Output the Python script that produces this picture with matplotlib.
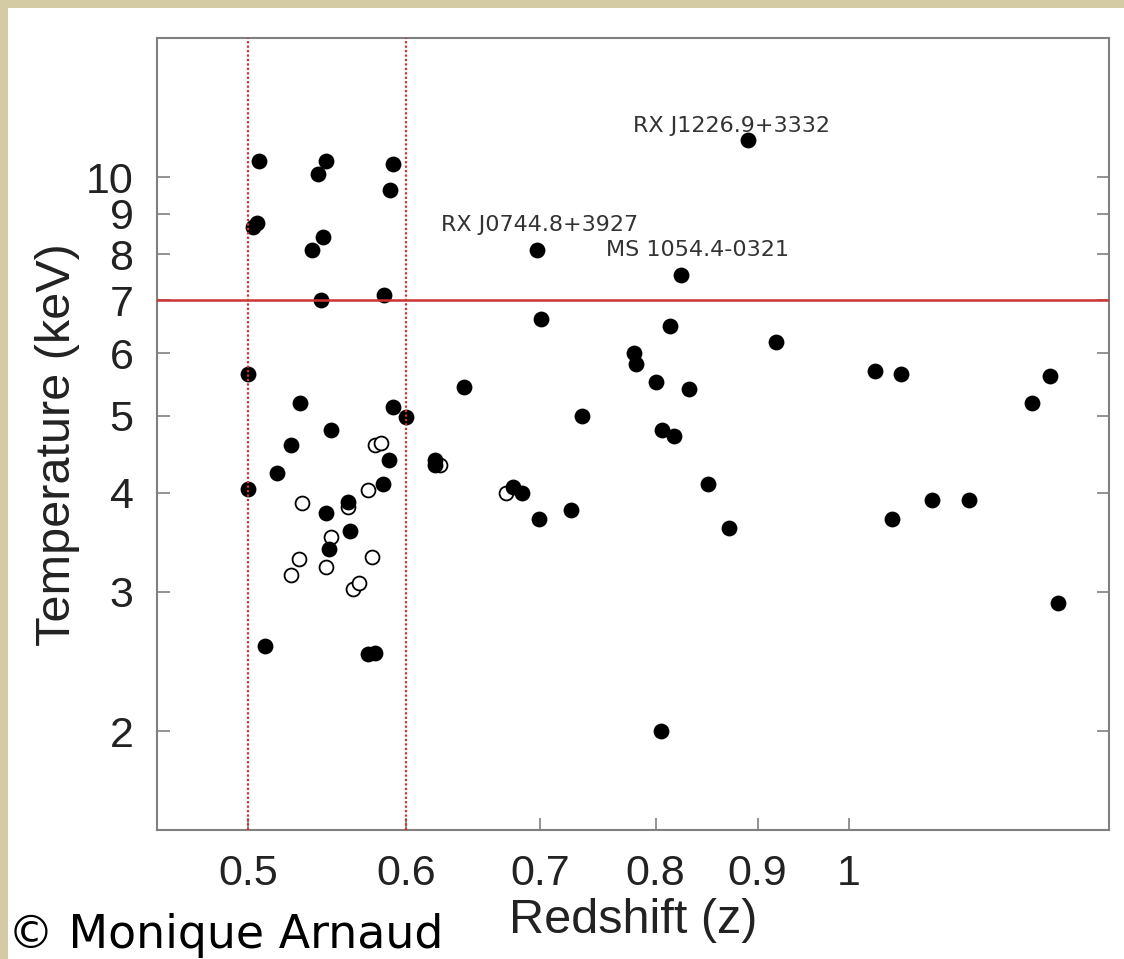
import matplotlib.pyplot as plt
from matplotlib.patches import Rectangle
from matplotlib.ticker import NullLocator

# clusters with a measured temperature (filled dots)
z_filled = [0.506, 0.547, 0.542, 0.591, 0.589, 0.505, 0.503, 0.545, 0.538, 0.544,
            0.585, 0.500, 0.500, 0.531, 0.550, 0.525, 0.517, 0.591, 0.600, 0.588,
            0.584, 0.561, 0.547, 0.562, 0.549, 0.510, 0.574, 0.579, 0.620, 0.620,
            0.641, 0.698, 0.701, 0.679, 0.686, 0.699, 0.726, 0.735, 0.780, 0.782,
            0.800, 0.806, 0.817, 0.813, 0.824, 0.831, 0.850, 0.871, 0.805, 0.890,
            0.919, 1.030, 1.062, 1.051, 1.100, 1.149, 1.235, 1.261, 1.273]
T_filled = [10.5, 10.5, 10.1, 10.4, 9.63, 8.75, 8.65, 8.4, 8.11, 7.01,
            7.1, 5.64, 4.04, 5.19, 4.80, 4.60, 4.24, 5.13, 4.99, 4.40,
            4.10, 3.89, 3.77, 3.58, 3.40, 2.56, 2.50, 2.51, 4.40, 4.33,
            5.44, 8.09, 6.63, 4.07, 3.99, 3.71, 3.80, 5.00, 6.01, 5.82,
            5.51, 4.80, 4.72, 6.50, 7.52, 5.41, 4.10, 3.61, 2.00, 11.14,
            6.20, 5.70, 5.64, 3.71, 3.91, 3.91, 5.19, 5.62, 2.90]

# open circles
z_open = [0.579, 0.583, 0.624, 0.532, 0.574, 0.561, 0.550, 0.530, 0.525, 0.547,
          0.577, 0.564, 0.568, 0.673]
T_open = [4.60, 4.62, 4.33, 3.88, 4.03, 3.84, 3.52, 3.30, 3.15, 3.22,
          3.32, 3.02, 3.08, 3.99]

# named clusters and where their labels sit (offset in points)
names = ['RX J1226.9+3332', 'RX J0744.8+3927', 'MS 1054.4-0321']
name_z = [0.890, 0.698, 0.824]
name_T = [11.14, 8.09, 7.52]
name_offsets = [(-11.5, 5.8), (1.4, 13.7), (11.5, 13.7)]

x_ticks = [0.5, 0.6, 0.7, 0.8, 0.9, 1.0]
x_tick_labels = ['0.5', '0.6', '0.7', '0.8', '0.9', '1']
y_ticks = [2, 3, 4, 5, 6, 7, 8, 9, 10]
y_tick_labels = ['2', '3', '4', '5', '6', '7', '8', '9', '10']

z_cuts = [0.5, 0.6]
T_cut = 7

W, H = 1124, 959
fig = plt.figure(figsize=(W / 100, H / 100), dpi=100, facecolor='#d4caa3')
fig.patches.append(Rectangle((8 / W, 0), 1, 1 - 8 / H, transform=fig.transFigure,
                             facecolor='white', edgecolor='none', zorder=-5))

ax = fig.add_axes([157 / W, 1 - 830 / H, (1109 - 157) / W, (830 - 38) / H])
ax.set_xscale('log')
ax.set_yscale('log')

ax.scatter(z_open, T_open, s=100, facecolors='white', edgecolors='black',
           linewidths=1.3, zorder=2)
ax.scatter(z_filled, T_filled, s=130, color='black', linewidths=0, zorder=3)

for zc in z_cuts:
    ax.axvline(zc, color='#cc3333', lw=1.6, ls=(0, (1, 1)), zorder=4)
ax.axhline(T_cut, color='#cc3333', lw=1.8, zorder=4)

for name, zz, tt, off in zip(names, name_z, name_T, name_offsets):
    ax.annotate(name, (zz, tt), xytext=off, textcoords='offset points',
                ha='center', va='baseline', fontsize=16, color='#333333',
                family='DejaVu Sans')

ax.set_xlim(0.45, 1.35)
ax.set_ylim(1.5, 15)
ax.set_xticks(x_ticks)
ax.set_xticklabels(x_tick_labels)
ax.set_yticks(y_ticks)
ax.set_yticklabels(y_tick_labels)
ax.xaxis.set_minor_locator(NullLocator())
ax.yaxis.set_minor_locator(NullLocator())

for sp in ax.spines.values():
    sp.set_color('#808080')
    sp.set_linewidth(1.5)

ax.tick_params(axis='both', direction='in', length=9, width=1.2, color='#808080',
               labelsize=31, labelcolor='#222222')
ax.tick_params(axis='y', right=True, pad=17)
ax.tick_params(axis='x', top=False, pad=17)
for lab in ax.get_xticklabels() + ax.get_yticklabels():
    lab.set_family('Liberation Sans')

ax.set_xlabel('Redshift (z)', fontsize=35, family='Liberation Sans', color='#222222')
ax.set_ylabel('Temperature (keV)', fontsize=35, family='Liberation Sans', color='#222222')
ax.xaxis.set_label_coords(0.5, -0.086)
ax.yaxis.set_label_coords(-0.081, 0.487)

fig.text(8 / W, 1 - 948 / H, '\u00a9 Monique Arnaud', fontsize=33,
         family='DejaVu Sans', color='black', va='baseline', ha='left')

fig.savefig('out.png', dpi=100, facecolor=fig.get_facecolor())
